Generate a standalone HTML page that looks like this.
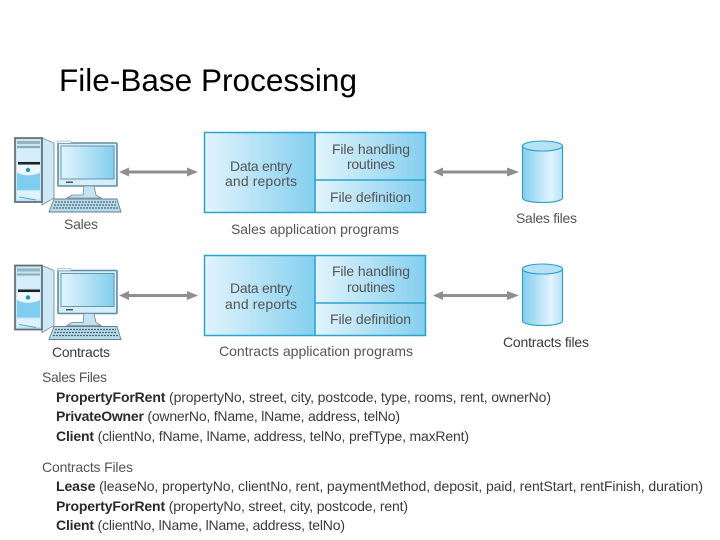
<!DOCTYPE html>
<html>
<head>
<meta charset="utf-8">
<style>
html,body{margin:0;padding:0;background:#fff;width:720px;height:540px;overflow:hidden}
svg{display:block}
text{font-family:"Liberation Sans",sans-serif;fill:#3a3a3a;font-size:14px}
.b{font-weight:bold;fill:#2a2a2a}
.n{fill:#555}
</style>
</head>
<body>
<svg width="720" height="540" viewBox="0 0 720 540" xmlns="http://www.w3.org/2000/svg">
<defs>
<linearGradient id="g1" x1="0" y1="0" x2="1" y2="0"><stop offset="0" stop-color="#e2f4fc"/><stop offset="1" stop-color="#84cfef"/></linearGradient>
<linearGradient id="g2" x1="0" y1="0" x2="1" y2="0"><stop offset="0" stop-color="#84cdee"/><stop offset="0.72" stop-color="#e0f4fc"/><stop offset="1" stop-color="#b6e2f6"/></linearGradient>
<filter id="s" x="-5%" y="-5%" width="110%" height="110%"><feGaussianBlur stdDeviation="0.35"/></filter>
<g id="pc">
  <polygon points="42,138 54,143 54,198 42,205" fill="#cde9f6" stroke="#7d929c" stroke-width="0.9"/>
  <rect x="15" y="138" width="27" height="64" fill="#c6e6f5" stroke="#5f6c74" stroke-width="1.7"/>
  <rect x="17" y="141" width="23" height="3" fill="#97b3c0"/>
  <rect x="17" y="146" width="23" height="2" fill="#8ea9b6"/>
  <rect x="17" y="149" width="23" height="12" fill="#d6eef9"/>
  <rect x="18" y="162" width="22" height="2.5" fill="#222"/>
  <path d="M17 165 H40 V172 Q28 178 17 172 Z" fill="#eef8fc"/>
  <circle cx="28" cy="170" r="2.2" fill="#1797ca"/>
  <path d="M17 173 Q28 178 40 173 V190 H17 Z" fill="#7fcdf0"/>
  <rect x="17" y="191" width="23" height="8" fill="#def2fa"/>
  <line x1="19" y1="197" x2="36" y2="200" stroke="#45aed6" stroke-width="1"/>
  <rect x="58" y="143" width="59" height="43" rx="1" fill="#d5eef9" stroke="#5d8ea5" stroke-width="1.6"/>
  <path d="M57.500 143 V141 H71 V143" fill="#eef8fc" stroke="#a8bcc6" stroke-width="0.7"/>
  <rect x="61" y="146" width="53" height="33" fill="url(#g1)" stroke="#4f8199" stroke-width="0.8"/>
  <rect x="66" y="181.500" width="7" height="1.500" fill="#555"/>
  <polygon points="84,186 94,186 96,195 101,198 67,198 72,195 83,195" fill="#c4e4f2" stroke="#6f8691" stroke-width="0.8"/>
  <polygon points="54,199 117,199 121,212 49,212" fill="#b5dbec" stroke="#687f8b" stroke-width="0.9"/>
  <g stroke="#4e6673" stroke-width="1.2" stroke-dasharray="2 1">
    <line x1="55" y1="202" x2="116" y2="202"/>
    <line x1="54" y1="205" x2="117" y2="205"/>
    <line x1="53" y1="208" x2="118" y2="208"/>
  </g>
</g>
<g id="app">
  <rect x="205" y="133" width="110" height="79" fill="url(#g1)"/>
  <rect x="315" y="133" width="110" height="47" fill="url(#g1)"/>
  <rect x="315" y="180" width="110" height="32" fill="url(#g1)"/>
  <rect x="204.500" y="132.500" width="221" height="80" fill="none" stroke="#2aa3cf" stroke-width="1.500"/>
  <line x1="315" y1="132" x2="315" y2="213" stroke="#2aa3cf" stroke-width="1.600"/>
  <line x1="315" y1="180" x2="426" y2="180" stroke="#2aa3cf" stroke-width="1.600"/>
</g>
<g id="cyl">
  <path d="M522.500 146 V198 A20 4.500 0 0 0 562.500 198 V146 Z" fill="url(#g2)" stroke="#2b9fcb" stroke-width="1.100"/>
  <ellipse cx="542.500" cy="146" rx="20" ry="5" fill="#b6e2f5" stroke="#2b9fcb" stroke-width="1.100"/>
</g>
<g id="arrows">
  <line x1="124" y1="172" x2="194" y2="172" stroke="#8f8f8f" stroke-width="3"/>
  <polygon points="119,172 129,167.500 129,176.500" fill="#8f8f8f"/>
  <polygon points="198,172 187,167.500 187,176.500" fill="#8f8f8f"/>
  <line x1="438" y1="172" x2="514" y2="172" stroke="#8f8f8f" stroke-width="3"/>
  <polygon points="433,172 443,167.500 443,176.500" fill="#8f8f8f"/>
  <polygon points="519,172 507,167.500 507,176.500" fill="#8f8f8f"/>
</g>
</defs>

<text x="59" y="91" style="font-size:31.5px;fill:#000" textLength="298" lengthAdjust="spacing">File-Base Processing</text>

<g filter="url(#s)">
  <use href="#pc"/>
  <use href="#app"/>
  <use href="#cyl"/>
  <use href="#arrows"/>
  <use href="#pc" y="127.500"/>
  <use href="#app" y="123"/>
  <use href="#cyl" y="123"/>
  <use href="#arrows" y="123.500"/>

  <text class="n" x="64" y="229" textLength="34" lengthAdjust="spacing">Sales</text>
  <text class="n" x="230" y="171" textLength="62" lengthAdjust="spacing">Data entry</text>
  <text class="n" x="225" y="186" textLength="72" lengthAdjust="spacing">and reports</text>
  <text class="n" x="332" y="154" textLength="78" lengthAdjust="spacing">File handling</text>
  <text class="n" x="347" y="169" textLength="48" lengthAdjust="spacing">routines</text>
  <text class="n" x="330" y="202" textLength="81" lengthAdjust="spacing">File definition</text>
  <text class="n" x="231" y="234" textLength="168" lengthAdjust="spacing">Sales application programs</text>
  <text class="n" x="516" y="223" textLength="61" lengthAdjust="spacing">Sales files</text>

  <text x="52" y="357" textLength="58" lengthAdjust="spacing">Contracts</text>
  <text class="n" x="230" y="293" textLength="62" lengthAdjust="spacing">Data entry</text>
  <text class="n" x="225" y="309" textLength="72" lengthAdjust="spacing">and reports</text>
  <text class="n" x="332" y="276" textLength="78" lengthAdjust="spacing">File handling</text>
  <text class="n" x="347" y="292" textLength="48" lengthAdjust="spacing">routines</text>
  <text class="n" x="330" y="324" textLength="81" lengthAdjust="spacing">File definition</text>
  <text class="n" x="219" y="356" textLength="194" lengthAdjust="spacing">Contracts application programs</text>
  <text x="503" y="347" textLength="86" lengthAdjust="spacing">Contracts files</text>

  <text class="n" x="42" y="382" textLength="65" lengthAdjust="spacing">Sales Files</text>
  <text x="56" y="402" textLength="495" lengthAdjust="spacing"><tspan class="b">PropertyForRent</tspan> (propertyNo, street, city, postcode, type, rooms, rent, ownerNo)</text>
  <text x="56" y="421" textLength="344" lengthAdjust="spacing"><tspan class="b">PrivateOwner</tspan> (ownerNo, fName, lName, address, telNo)</text>
  <text x="56" y="441" textLength="413" lengthAdjust="spacing"><tspan class="b">Client</tspan> (clientNo, fName, lName, address, telNo, prefType, maxRent)</text>
  <text class="n" x="42" y="472" textLength="91" lengthAdjust="spacing">Contracts Files</text>
  <text x="56" y="491" textLength="647" lengthAdjust="spacing"><tspan class="b">Lease</tspan> (leaseNo, propertyNo, clientNo, rent, paymentMethod, deposit, paid, rentStart, rentFinish, duration)</text>
  <text x="56" y="511" textLength="352" lengthAdjust="spacing"><tspan class="b">PropertyForRent</tspan> (propertyNo, street, city, postcode, rent)</text>
  <text x="56" y="530" textLength="289" lengthAdjust="spacing"><tspan class="b">Client</tspan> (clientNo, lName, lName, address, telNo)</text>
</g>
</svg>
</body>
</html>
